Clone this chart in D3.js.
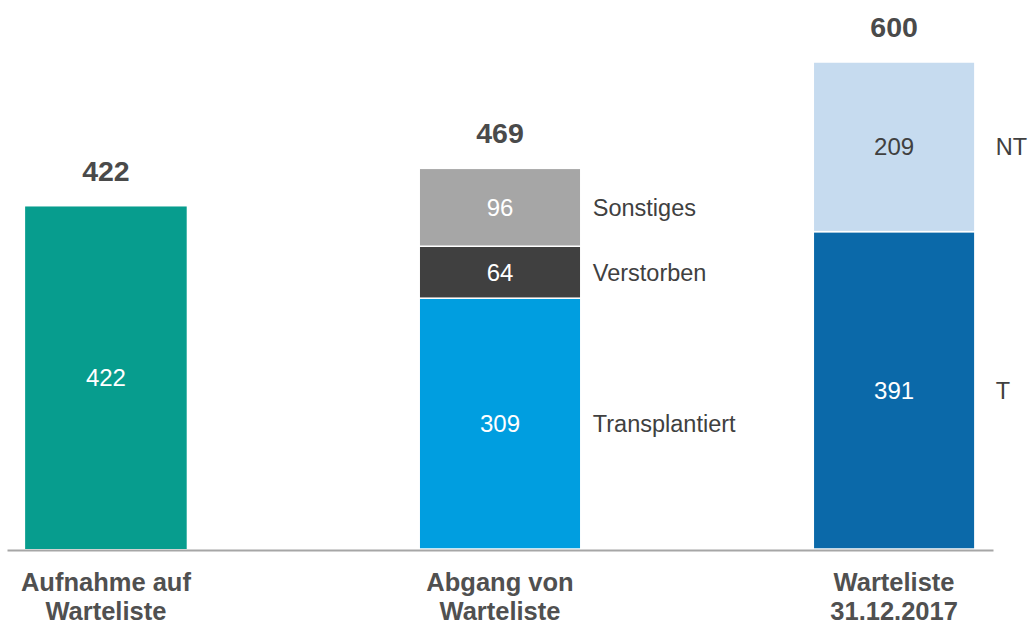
<!DOCTYPE html>
<html>
<head>
<meta charset="utf-8">
<script src="https://cdn.jsdelivr.net/npm/d3@7"></script>
<style>
  body { margin: 0; background: #fff; }
  svg { display: block; font-family: "Liberation Sans", Arial, sans-serif; }
</style>
</head>
<body>
<div id="chart"></div>
<script>
// chart data
const categories = ["Aufnahme auf|Warteliste", "Abgang von|Warteliste", "Warteliste|31.12.2017"];
const totals = [422, 469, 600];
const aufnahmeValues = [422];
const aufnahmeLabels = [""];
const abgangValues = [309, 64, 96];
const abgangLabels = ["Transplantiert", "Verstorben", "Sonstiges"];
const wartelisteValues = [391, 209];
const wartelisteLabels = ["T", "NT"];

const colors = [
  ["#079d8e"],
  ["#009ee0", "#404040", "#a6a6a6"],
  ["#0b69a9", "#c6dbef"]
];
const valueColors = [
  ["#ffffff"],
  ["#ffffff", "#ffffff", "#ffffff"],
  ["#ffffff", "#404040"]
];

const width = 1032, height = 624;

const svg = d3.select("#chart")
  .append("svg")
    .attr("width", width)
    .attr("height", height);

// x scale for the three bars
const x = d3.scaleBand()
  .domain(categories)
  .range([7, 993])
  .paddingInner(0.59)
  .paddingOuter(0.046);

// y scale
const y = d3.scaleLinear()
  .domain([0, 600])
  .range([549, 62]);

// build stacked segments
const bars = [
  {cat: categories[0], values: aufnahmeValues, labels: aufnahmeLabels, labelGap: 12},
  {cat: categories[1], values: abgangValues, labels: abgangLabels, labelGap: 12},
  {cat: categories[2], values: wartelisteValues, labels: wartelisteLabels, labelGap: 21}
];

bars.forEach(function(b, i) {
  let acc = 0;
  const segs = b.values.map(function(v, j) {
    const s = {y0: acc, y1: acc + v, value: v, label: b.labels[j],
      color: colors[i][j], textColor: valueColors[i][j]};
    acc += v;
    return s;
  });

  const g = svg.append("g");

  g.selectAll("rect")
    .data(segs)
    .enter()
    .append("rect")
      .attr("x", x(b.cat))
      .attr("width", x.bandwidth())
      .attr("y", d => y(d.y1))
      .attr("height", d => y(d.y0) - y(d.y1))
      .attr("fill", d => d.color)
      .attr("stroke", "#ffffff")
      .attr("stroke-width", segs.length > 1 ? 1.5 : 0);

  // values inside the segments
  g.selectAll(".val")
    .data(segs)
    .enter()
    .append("text")
      .attr("class", "val")
      .attr("x", x(b.cat) + x.bandwidth() / 2)
      .attr("y", d => (y(d.y0) + y(d.y1)) / 2)
      .attr("dy", "0.36em")
      .attr("text-anchor", "middle")
      .style("font-size", "24px")
      .attr("fill", d => d.textColor)
      .text(d => d.value);

  // segment names right of the bar
  g.selectAll(".lab")
    .data(segs.filter(d => d.label !== ""))
    .enter()
    .append("text")
      .attr("class", "lab")
      .attr("x", x(b.cat) + x.bandwidth() + b.labelGap)
      .attr("y", d => (y(d.y0) + y(d.y1)) / 2)
      .attr("dy", "0.36em")
      .style("font-size", "23.5px")
      .attr("fill", "#404040")
      .text(d => d.label);

  // total above the bar
  svg.append("text")
    .attr("x", x(b.cat) + x.bandwidth() / 2)
    .attr("y", y(totals[i]) - 25)
    .attr("text-anchor", "middle")
    .style("font-size", "28.5px")
    .style("font-weight", "bold")
    .attr("fill", "#4a4a4a")
    .text(totals[i]);
});

// x axis
const xAxis = svg.append("g")
  .attr("transform", "translate(0, 550)")
  .call(d3.axisBottom(x).tickSize(0).tickSizeOuter(0).tickFormat(""));

xAxis.select(".domain")
  .attr("stroke", "#a6a6a6")
  .attr("stroke-width", 2);

xAxis.selectAll(".tick text").remove();
xAxis.selectAll(".tick")
  .append("text")
    .attr("text-anchor", "middle")
    .attr("fill", "#505050")
    .style("font-size", "25.5px")
    .style("font-weight", "bold")
    .each(function(d) {
      const t = d3.select(this);
      d.split("|").forEach(function(line, k) {
        t.append("tspan")
          .attr("x", 0)
          .attr("y", 41 + k * 29)
          .text(line);
      });
    });
</script>
</body>
</html>
